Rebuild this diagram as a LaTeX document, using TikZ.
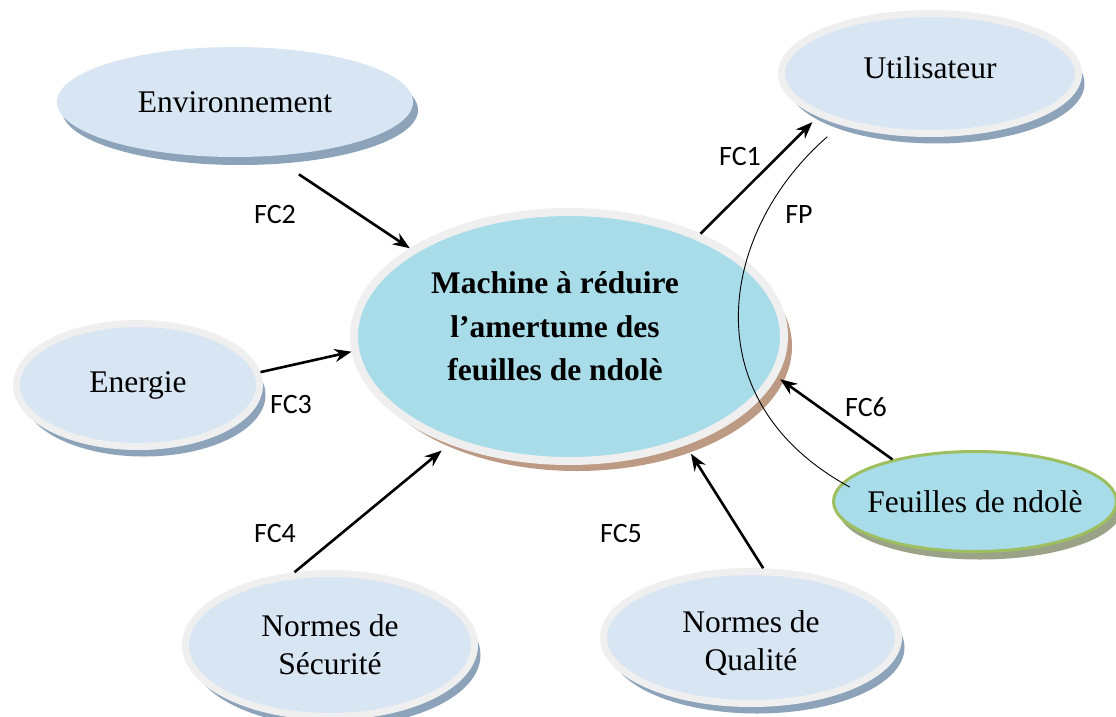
\documentclass[tikz,border=0pt]{standalone}
\usepackage{fontspec}
\setmainfont{Liberation Serif}
\newfontfamily\calibrifont{Carlito}
\usetikzlibrary{shapes.geometric,shadows,arrows.meta}
\definecolor{ringgray}{HTML}{EFEFEF}
\definecolor{fillblue}{HTML}{D8E5F3}
\definecolor{shadowblue}{HTML}{8CA3BA}
\definecolor{fillcyan}{HTML}{A8DCE8}
\definecolor{shadowbrown}{HTML}{BC9A83}
\definecolor{leafgreen}{HTML}{9DBF5F}
\definecolor{shadowolive}{HTML}{9AA287}
\begin{document}
\begin{tikzpicture}[x=1pt,y=-1pt,
  base/.style={ellipse, inner sep=0pt, align=center, text=black,
    font=\fontsize{31.5}{38}\selectfont},
  bluenode/.style={base, fill=fillblue, draw=ringgray, line width=7pt,
    drop shadow={shadow xshift=6pt, shadow yshift=-10pt, fill=shadowblue, opacity=1}},
  plainblue/.style={base, fill=fillblue,
    drop shadow={shadow xshift=5pt, shadow yshift=-8pt, fill=shadowblue, opacity=1}},
  mainnode/.style={base, fill=fillcyan, draw=ringgray, line width=8pt,
    drop shadow={shadow xshift=8pt, shadow yshift=-10pt, fill=shadowbrown, opacity=1}},
  maintext/.style={align=center, inner sep=0pt,
    font=\fontsize{31.5}{43.5}\selectfont\bfseries},
  normtext/.style={align=center, inner sep=0pt,
    font=\fontsize{31.5}{38}\selectfont},
  leafnode/.style={base, fill=fillcyan, draw=leafgreen, line width=3pt, inner xsep=-12pt,
    drop shadow={shadow xshift=5pt, shadow yshift=-8pt, fill=shadowolive, opacity=1}},
  arr/.style={line width=2.6pt, -{Stealth[length=17pt,width=13pt]}},
  fpline/.style={line width=0.9pt},
  lbl/.style={font=\calibrifont\fontsize{28}{30}\selectfont, inner sep=0pt}
]
\useasboundingbox (0,0) rectangle (1116,717);

% nodes
\node[plainblue, minimum width=356pt, minimum height=110pt] (env) at (235,102) {Environnement};
\node[bluenode, minimum width=297pt, minimum height=120pt, text depth=12pt] (util) at (930,73.5) {Utilisateur};
\node[mainnode, minimum width=430pt, minimum height=249pt,
  label={[maintext, xshift=-14pt, yshift=10pt]center:Machine à réduire\\l’amertume des\\feuilles de ndolè}] (main) at (569,336.5) {};
\node[bluenode, minimum width=243pt, minimum height=123pt, text depth=6pt] (ener) at (138,385) {Energie};
\node[leafnode, minimum width=283pt, minimum height=100pt] (feu) at (975,501.5) {Feuilles de ndolè};
\node[bluenode, minimum width=289pt, minimum height=143pt] (secu) at (330,645) {Normes de\\Sécurité};
\node[bluenode, minimum width=295pt, minimum height=132pt,
  label={[normtext, yshift=-6pt]center:Normes de\\Qualité}] (qual) at (751,637.5) {};

% connectors
\draw[arr, shorten <=33pt] (env.-56) -- (main.151.7);
\draw[arr, shorten >=8pt] (main.38.9) -- (util.-159.3);
\draw[arr] (ener.6.1) -- (main.-176.2);
\draw[arr, shorten >=10pt] (secu.116.3) -- (main.-138.3);
\draw[arr, shorten >=10pt] (qual.80.3) -- (main.-43.5);
\draw[arr, shorten >=4pt] (feu.153.2) -- (main.-11.2);
\draw[fpline, shorten <=18pt] (util.-150.4) .. controls (720,230) and (690,400) .. ([xshift=12pt]feu.174.7);

% labels
\node[lbl] (lfc2) at (275,215) {FC2};
\node[lbl] (lfc1) at (740,157) {FC1};
\node[lbl] (lfp) at (799,215) {FP};
\node[lbl] (lfc3) at (291,405) {FC3};
\node[lbl] (lfc6) at (866,407) {FC6};
\node[lbl] (lfc4) at (275,534) {FC4};
\node[lbl] (lfc5) at (621,534) {FC5};
\end{tikzpicture}
\end{document}
